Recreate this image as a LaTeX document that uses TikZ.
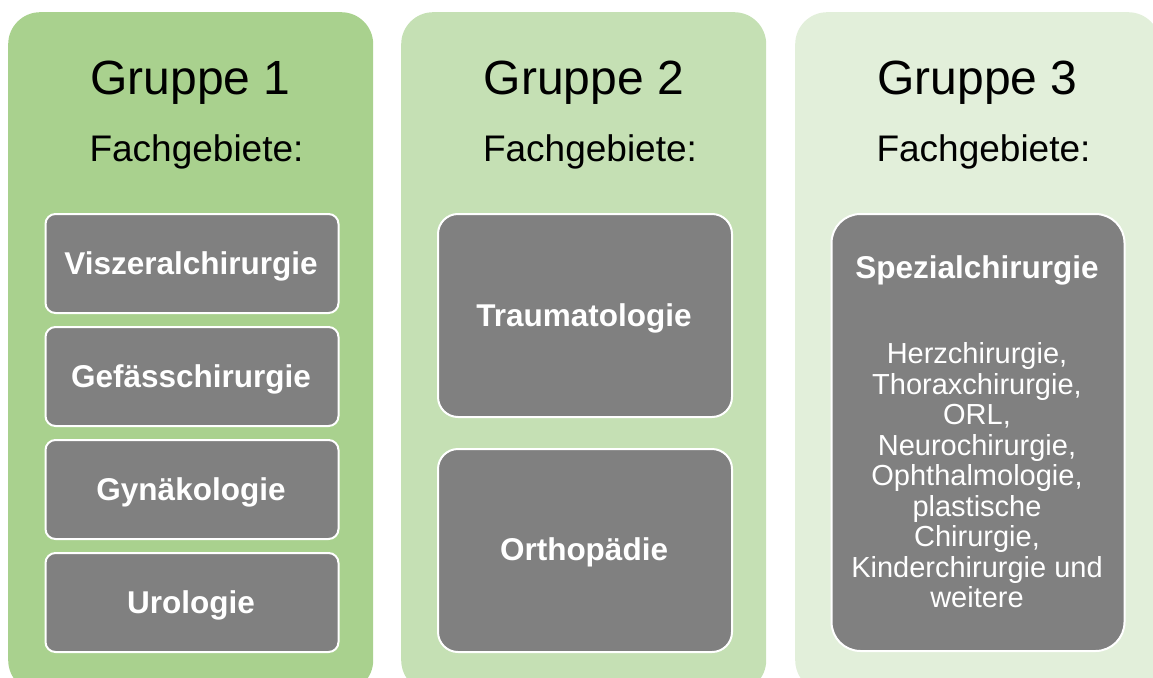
\documentclass[tikz,border=0pt]{standalone}
\usepackage{fontspec}
\setmainfont{Liberation Sans}
\definecolor{pA}{HTML}{A9D18E}
\definecolor{pB}{HTML}{C5E0B4}
\definecolor{pC}{HTML}{E2EFDA}
\definecolor{gbox}{HTML}{808080}
\tikzset{
  panel/.style={draw=none, rounded corners=32, minimum width=365, minimum height=680, anchor=north west, inner sep=0},
  fbox/.style={fill=gbox, draw=white, line width=2, anchor=north west, inner sep=0},
  ttl/.style={anchor=base, inner sep=0, font=\fontsize{48}{55}\selectfont},
  sub/.style={anchor=base, inner sep=0, font=\fontsize{37}{42}\selectfont},
  lbl/.style={anchor=base, inner sep=0, text=white, font=\fontsize{31.5}{36}\selectfont\bfseries},
  body/.style={anchor=base, inner sep=0, text=white, align=center, font=\fontsize{29}{30.5}\selectfont}
}
\begin{document}
\begin{tikzpicture}[x=1pt,y=-1pt]
\useasboundingbox (0,0) rectangle (1153,677);
\clip (0,0) rectangle (1153,677);
% panels
\node[panel, fill=pA] (p1) at (8,12) {};
\node[panel, fill=pB] (p2) at (401,12) {};
\node[panel, fill=pC] (p3) at (795,12) {};
% titles
\node[ttl] (t1) at (190.5,94) {Gruppe 1};
\node[ttl] (t2) at (584,94) {Gruppe 2};
\node[ttl] (t3) at (977.5,94) {Gruppe 3};
\node[sub] (s1) at (196.5,161.5) {Fachgebiete:};
\node[sub] (s2) at (590,161.5) {Fachgebiete:};
\node[sub] (s3) at (983.5,161.5) {Fachgebiete:};
% group 1 boxes
\node[fbox, rounded corners=10, minimum width=293, minimum height=99] (b11) at (44.5,213) {};
\node[fbox, rounded corners=10, minimum width=293, minimum height=99] (b12) at (44.5,326) {};
\node[fbox, rounded corners=10, minimum width=293, minimum height=99] (b13) at (44.5,439) {};
\node[fbox, rounded corners=10, minimum width=293, minimum height=99] (b14) at (44.5,552) {};
\node[lbl] (l11) at (191,274) {Viszeralchirurgie};
\node[lbl] (l12) at (191,387) {Gefässchirurgie};
\node[lbl] (l13) at (191,500) {Gynäkologie};
\node[lbl] (l14) at (191,613) {Urologie};
% group 2 boxes
\node[fbox, rounded corners=20, minimum width=294, minimum height=203] (b21) at (437,213) {};
\node[fbox, rounded corners=20, minimum width=294, minimum height=203] (b22) at (437,448) {};
\node[lbl] (l21) at (584,326) {Traumatologie};
\node[lbl] (l22) at (584,560) {Orthopädie};
% group 3 box
\node[fbox, rounded corners=29, minimum width=293, minimum height=437] (b31) at (830.5,213) {};
\node[lbl] (l31) at (977,278) {Spezialchirurgie};
\node[body] (l32) at (977,607.5) {Herzchirurgie,\\Thoraxchirurgie,\\ORL,\\Neurochirurgie,\\Ophthalmologie,\\plastische\\Chirurgie,\\Kinderchirurgie und\\weitere};
\end{tikzpicture}
\end{document}
